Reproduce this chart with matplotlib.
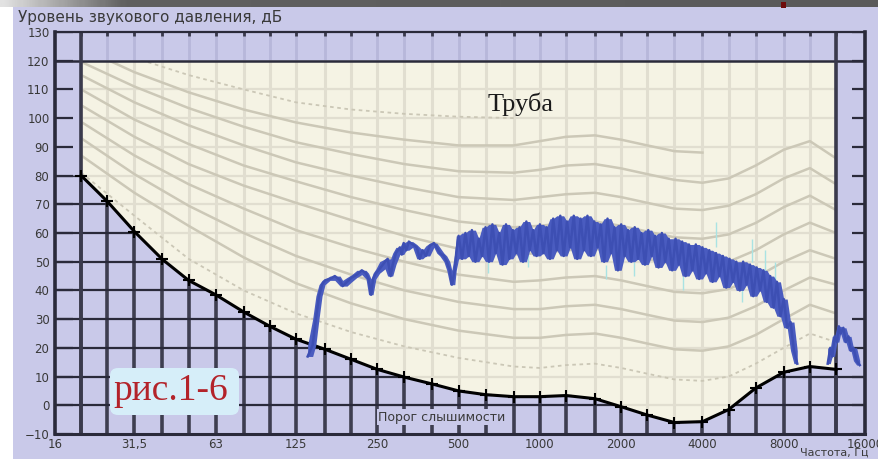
import numpy as np
import pandas as pd
import matplotlib.pyplot as plt
from matplotlib.patches import Polygon, Rectangle, FancyBboxPatch
from matplotlib.colors import LinearSegmentedColormap
from matplotlib.ticker import NullLocator
from matplotlib.transforms import IdentityTransform

LAV = '#c9c9e9'
CREAM = '#f5f3e4'
BLUE = '#3d4fb3'

# third-octave band centres, Hz
bands = [20, 25, 31.5, 40, 50, 63, 80, 100, 125, 160, 200, 250, 315, 400, 500,
         630, 800, 1000, 1250, 1600, 2000, 2500, 3150, 4000, 5000, 6300, 8000,
         10000, 12500]
# hearing threshold, dB
threshold = [80, 71, 60.5, 50.8, 43.5, 38.5, 32.5, 27.5, 23, 19.5, 16, 12.5, 9.8,
             7.4, 5, 3.7, 3, 3, 3.4, 2.3, -0.5, -3.4, -6, -5.7, -1.5, 6, 11.5,
             13.5, 12.5]

x_ticks = [16, 31.5, 63, 125, 250, 500, 1000, 2000, 4000, 8000, 16000]
x_labels = ['16', '31,5', '63', '125', '250', '500', '1000', '2000', '4000',
            '8000', '16000']
y_ticks = list(range(-10, 131, 10))

# equal loudness contours
cont_f = [20, 31.5, 50, 80, 125, 200, 315, 500, 800, 1000, 1250, 1600, 2000,
          2500, 3150, 4000, 5000, 6300, 8000, 10000, 12500]
phon_100 = [129, 121, 115, 110, 105.5, 103, 101.5, 100.5, 100]
phon_90 = [124.5, 116, 109, 103, 98.5, 95, 92.5, 90.5, 90.5, 92, 93.5, 94, 92.5,
           90.5, 88.5, 88]
phon_80 = [119.6, 111, 103.5, 97, 91.6, 87.5, 84, 81.5, 81, 82, 83.5, 84, 82.5,
           80.5, 78.5, 77.5, 79, 83.5, 89, 92, 86]
phon_70 = [115, 105.5, 97.5, 90.5, 84.6, 80, 76, 72.5, 71.5, 72.5, 73.5, 74, 72.5,
           70.5, 68.5, 68, 69.5, 73.5, 79, 82.6, 77]
phon_60 = [110, 99.5, 91, 83.5, 78, 72.5, 68, 64, 62, 62.5, 63.5, 64, 62.5, 60.5,
           58.5, 58, 59.5, 63.5, 69, 73, 68]
phon_50 = [104.5, 93.5, 84, 76.5, 70.5, 64.5, 59, 54.5, 52.5, 53, 54, 54.5, 53, 51,
           49, 48.5, 50, 54, 59.5, 63.6, 60]
phon_40 = [98.7, 87, 77, 68.5, 61, 55, 50, 45.5, 43, 43.5, 44.5, 45, 43.5, 41.5,
           39.5, 39, 40.5, 44.5, 50, 54, 51]
phon_30 = [93, 80.5, 69.5, 60, 52, 45.5, 40, 36, 33.5, 33.5, 34.5, 35, 33.5, 31.5,
           29.5, 29, 30.5, 34.5, 40, 44.5, 42]
phon_20 = [87, 74, 62.5, 51.5, 42.5, 35.5, 30, 26, 23.5, 23.5, 24.5, 25, 23.5,
           21.5, 19.5, 19, 20.5, 24.5, 30, 35, 32]
phon_10 = [81, 66, 51, 40, 32, 25.5, 20.5, 16.5, 13.5, 13, 14, 14.5, 13, 11, 9,
           8.5, 10, 14.5, 20, 25, 22]

# measured spectrum "Труба"
pipe_f = [138, 144, 148, 152, 156, 160, 167, 174, 182, 186, 193, 201, 210, 219,
          227, 232, 237, 241, 247, 255, 267, 273, 280, 285, 293, 303, 308, 313,
          320, 327, 338, 350, 359, 368, 378, 391, 405, 415, 426, 441, 452, 464,
          472, 484, 490,
          500, 515, 530, 545, 560, 577, 594, 611, 629, 648, 667, 686, 707, 727,
          749, 771, 794, 817, 841, 866, 891, 917, 944, 972, 1000, 1030, 1060,
          1090, 1120, 1155, 1190, 1225, 1260, 1295, 1335, 1375, 1415, 1455, 1500,
          1545, 1590, 1635, 1680, 1730, 1780, 1835, 1890, 1945, 2000, 2060, 2120,
          2180, 2245, 2310, 2380, 2450, 2520, 2595, 2670, 2750, 2830, 2910, 3000,
          3090, 3180, 3270, 3365, 3465, 3565, 3670, 3780, 3890, 4000, 4120, 4240,
          4360, 4490, 4620, 4760, 4900, 5040, 5190, 5340, 5500, 5660, 5830, 6000,
          6170, 6350, 6540, 6730, 6930, 7130, 7340, 7550, 7780, 8000, 8240, 8480,
          8730, 8980]
pipe_db = [17, 21, 30, 38, 42, 43.5, 44, 45, 43.5, 41.5, 43, 44.5, 45.5, 47,
           46, 44, 38.5, 44, 46, 47.5, 50, 51, 45, 49, 53, 55, 52.5, 56.5,
           54, 57, 56, 55, 51, 54, 52, 55.5, 56.5, 55, 53, 52, 50, 47,
           42, 47, 53,
           59, 51, 60, 52, 61, 50, 58, 52, 62, 50, 63, 53, 60, 49,
           63, 51, 61, 53, 62, 50, 64, 54, 61, 52, 63, 53, 62,
           51, 65, 54, 66, 52, 64, 55, 66, 51, 65, 54, 66,
           52, 64, 55, 63, 50, 65, 53, 62, 47, 63, 52, 61,
           50, 62, 51, 60, 49, 61, 52, 59, 48, 60, 50, 58,
           47, 58, 49, 57, 45, 56, 47, 56, 44, 55, 46, 54,
           43, 53, 45, 52, 41, 51, 43, 50, 40, 50, 42, 49,
           38, 48, 40, 47, 36, 45, 34, 43, 31, 37, 27, 29,
           19, 14.5]
pipe2_f = [11640, 11900, 12100, 12350, 12600, 12800, 13000, 13300, 13600, 13900,
           14200, 14500, 14900, 15300]
pipe2_db = [14.5, 20, 17, 24, 22, 27.5, 25, 27, 22, 24, 19, 20, 15.5, 14]

# faint secondary trace
trace_f = [640, 905, 1750, 2230, 3400, 4500, 5600, 6100, 6800, 7450]
trace_lo = [46, 48, 44, 45, 40, 55, 36, 50, 46, 42]
trace_hi = [52, 55, 49, 50, 45, 64, 42, 58, 54, 50]

fig = plt.figure(figsize=(8.79, 4.59), dpi=100)
fig.patch.set_facecolor(LAV)
fig.add_artist(Rectangle((0, 0), 13 / 879, 1, transform=fig.transFigure,
                         fc='white', ec='none', zorder=0))

# top dark bar
bar = fig.add_axes([0, 452 / 459, 1, 7 / 459])
bar_cmap = LinearSegmentedColormap.from_list(
    'bar', [(0, '#e2e2e2'), (0.14, '#606060'), (1, '#5a5a5a')])
bar.imshow(np.linspace(0, 1, 300)[None, :], aspect='auto', cmap=bar_cmap,
           extent=[0, 1, 0, 1])
bar.axis('off')
fig.add_artist(Rectangle((781 / 879, 451 / 459), 5 / 879, 6 / 459,
                         transform=fig.transFigure, fc='#6e0c0c', ec='none',
                         zorder=5))

ax = fig.add_axes([55 / 879, 25 / 459, 810 / 879, 402 / 459])
ax.set_xscale('log')
ax.set_xlim(16, 16000)
ax.set_ylim(-10, 130)
ax.set_facecolor(LAV)

thr_pts = list(zip(bands, threshold))
lower_pts = [(16, 80)] + thr_pts + [(16000, threshold[-1]), (16000, -10), (16, -10)]
cream_pts = [(20, 120), (12500, 120)] + thr_pts[::-1]

lower = Polygon(lower_pts, closed=True, transform=ax.transData)
cream = Polygon(cream_pts, closed=True, fc=CREAM, ec='none', zorder=1)
ax.add_patch(cream)

# dark grid below threshold
dv = ax.vlines(bands, -10, 130, colors='#3e3e50', lw=2.6, zorder=0.6)
dv.set_clip_path(lower)
dh = ax.hlines(range(0, 90, 10), 16, 16000, colors='#2a2a3a', lw=1.6, zorder=0.6)
dh.set_clip_path(lower)

# faint lines in the top strip
ax.vlines(bands, 120, 130, colors='#b7b7da', lw=2, zorder=0.4)

# light grid inside the audible area
lv = ax.vlines(bands, -10, 130, colors='#e1ded0', lw=2.2, zorder=1.2)
lv.set_clip_path(cream)
lh = ax.hlines(range(-10, 120, 10), 16, 16000, colors='#e1ded0', lw=1.6, zorder=1.2)
lh.set_clip_path(cream)

solid = [phon_90, phon_80, phon_70, phon_60, phon_50, phon_40, phon_30, phon_20]
for vals in solid:
    ln, = ax.plot(cont_f[:len(vals)], vals, color='#ccc8b7', lw=1.8, zorder=1.5)
    ln.set_clip_path(cream)
for vals in [phon_100, phon_10]:
    ln, = ax.plot(cont_f[:len(vals)], vals, color='#cbc7b6', lw=1.3,
                  ls=(0, (2, 2)), zorder=1.5)
    ln.set_clip_path(cream)

# frame of the audible area
ax.axhline(120, color='#2a2a3a', lw=1.8, zorder=2.5)
ax.axvline(20, color='#3a3a4c', lw=2.6, zorder=2.5)
ax.axvline(12500, color='#3a3a4c', lw=2.6, zorder=2.5)
ax.vlines(bands, 128.5, 130, colors='#3a3a4c', lw=2, zorder=2.5)
ax.hlines(y_ticks, 16, 18.6, colors='#2a2a3a', lw=1.6, zorder=2.5)
ax.hlines(y_ticks, 14300, 16000, colors='#2a2a3a', lw=1.6, zorder=2.5)

# hearing threshold
ax.plot(bands, threshold, color='black', lw=2.2, zorder=3)
ax.plot(bands, threshold, ls='none', marker='+', ms=9, mew=1.5, color='black',
        zorder=3)

# measured spectrum: spread of the fluctuations filled, trace on top
ax.vlines(trace_f, trace_lo, trace_hi, colors='#a9e3e3', lw=1, zorder=4)
for f, db in [(pipe_f, pipe_db), (pipe2_f, pipe2_db)]:
    s = pd.Series(db)
    lo = s.rolling(3, center=True, min_periods=1).min()
    hi = s.rolling(3, center=True, min_periods=1).max()
    ax.fill_between(f, lo, hi, color='#4a5cc0', lw=0, zorder=4.5)
    ax.plot(f, db, color=BLUE, lw=1.8, zorder=5)

ax.set_xticks(x_ticks)
ax.set_xticklabels(x_labels)
ax.xaxis.set_minor_locator(NullLocator())
ax.set_yticks(y_ticks)
ax.tick_params(length=0, labelsize=8.5, labelcolor='#383838')
ax.tick_params(axis='x', pad=3)
ax.tick_params(axis='y', pad=4)
for side, w in [('left', 2.6), ('right', 2.6), ('bottom', 2.2), ('top', 1.6)]:
    ax.spines[side].set_color('#2a2a3a')
    ax.spines[side].set_linewidth(w)
    ax.spines[side].set_zorder(6)

fig.text(18 / 879, 441.5 / 459, 'Уровень звукового давления, дБ', fontsize=11,
         va='center', color='#3a3a3a')
fig.text(442 / 879, 42 / 459, 'Порог слышимости', fontsize=9, ha='center',
         va='center', color='#3a3a3a',
         bbox=dict(boxstyle='square,pad=0.1', fc=LAV, ec='none'))
fig.text(800 / 879, 1 / 459, 'Частота, Гц', fontsize=8, va='bottom',
         color='#3a3a3a')
fig.text(488 / 879, (459 - 111) / 459, 'Труба', fontsize=19,
         family='Liberation Serif', color='#1a1a1a', va='baseline')

fig.add_artist(FancyBboxPatch((118, 52), 113, 31, boxstyle='round,pad=8',
                              transform=IdentityTransform(), fc='#d6eef9',
                              ec='none', zorder=7))
fig.text(113 / 879, 59 / 459, 'рис.1-6', fontsize=27, family='Liberation Serif',
         color='#b3232a', va='baseline', zorder=8)

fig.savefig('out.png', dpi=100, facecolor=fig.get_facecolor())
